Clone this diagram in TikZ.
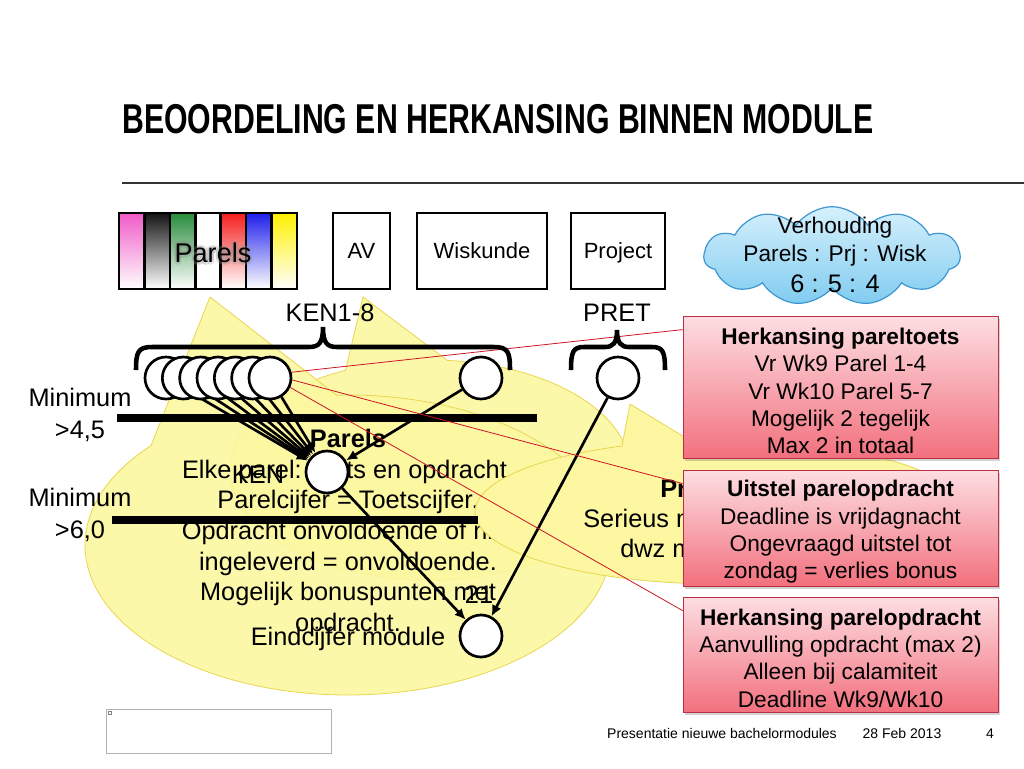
\documentclass[tikz,border=0pt]{standalone}
\usepackage{fontspec}
\usepackage{graphicx}
\setmainfont{Liberation Sans}
\usetikzlibrary{shapes.symbols,shadows,arrows.meta,calc}
\newcommand{\fsz}[2]{\fontsize{#1}{#2}\selectfont}
\definecolor{ylwfill}{RGB}{252,247,160}
\definecolor{ylwline}{RGB}{232,214,80}
\definecolor{redtop}{RGB}{253,222,226}
\definecolor{redbot}{RGB}{242,112,126}
\definecolor{redln}{RGB}{205,20,40}
\definecolor{redborder}{RGB}{190,45,70}
\definecolor{cloudtop}{RGB}{214,240,252}
\definecolor{cloudbot}{RGB}{128,204,240}
\definecolor{cloudline}{RGB}{60,150,210}
\definecolor{pinkc}{RGB}{240,90,200}
\definecolor{blackc}{RGB}{20,20,20}
\definecolor{greenc}{RGB}{40,140,60}
\definecolor{whitec}{RGB}{255,255,255}
\definecolor{redc}{RGB}{245,30,30}
\definecolor{bluec}{RGB}{30,30,235}
\definecolor{yellowc}{RGB}{255,240,0}
\pgfdeclarelayer{back}
\pgfdeclarelayer{mid}
\pgfsetlayers{back,mid,main}
\begin{document}
\begin{tikzpicture}[x=0.75pt,y=-0.75pt,
  topbox/.style={draw, line width=1.9pt, minimum height=57pt, inner sep=0, font=\fsz{16.5}{20}, text height=11.8pt, text depth=0pt},
  circ/.style={circle, draw, fill=white, line width=2pt, minimum size=31.5pt, inner sep=0},
  arr/.style={line width=2pt, -{Latex[length=8.25pt,width=7.5pt]}},
  bar/.style={line width=6pt},
  bracepath/.style={line width=3.4pt},
  callout/.style={fill=ylwfill, fill opacity=0.9, draw=ylwline, line width=0.6pt},
  redbox/.style={draw=redborder, line width=0.6pt, top color=redtop, bottom color=redbot,
     minimum width=236.25pt, inner sep=0,
     drop shadow={opacity=0.35, shadow xshift=1.5pt, shadow yshift=-2pt}},
  redtxt/.style={align=center, font=\fsz{17}{20.5}, inner sep=0},
  redl/.style={draw=redln, line width=0.6pt},
  lbl/.style={font=\fsz{19}{22}, inner sep=0},
  lbl1/.style={font=\fsz{19}{22}, inner sep=0, text height=13.6pt, text depth=0pt}
]
\useasboundingbox (0,0) rectangle (1024,768);

% title
\node[anchor=base west, inner sep=0, font=\fsz{31.3}{36}\bfseries] (title) at (122,133)
  {\scalebox{0.725}[1]{BEOORDELING EN HERKANSING BINNEN MODULE}};
\draw[line width=0.9pt, black!80] (122,183) -- (1024,183);

% Parels striped box
\foreach \c [count=\i from 0] in {pinkc,blackc,greenc,whitec,redc,bluec,yellowc}{
  \shade[top color=\c, middle color=\c!40!white, bottom color=white] ({119+\i*25.43},213) rectangle ++(25.43,76);
}
\foreach \i in {0,...,6}{
  \draw[line width=1.9pt] ({119+\i*25.43},213) rectangle ++(25.43,76);
}
\node[minimum width=133.5pt, minimum height=57pt, inner sep=0] (parelsbox) at (208,251) {};
\foreach \dx/\dy in {-2.5/0,2.5/0,0/-2.5,0/2.5,-1.8/-1.8,1.8/1.8,-1.8/1.8,1.8/-1.8}{
  \node[font=\fsz{20.3}{24}, text=black!45, text opacity=0.18, inner sep=0, text height=14.5pt, text depth=0pt] at ($(213,253)+(\dx,\dy)$) {Parels};
}
\node[font=\fsz{20.3}{24}, inner sep=0, text height=14.5pt, text depth=0pt] (parelslbl) at (213,253) {Parels};

\node[topbox, minimum width=42.75pt] (av) at (361.5,251) {AV};
\node[topbox, minimum width=97.5pt] (wisk) at (482,251) {Wiskunde};
\node[topbox, minimum width=70.5pt] (proj) at (618,251) {Project};

% cloud
\node[cloud, cloud puffs=11, cloud puff arc=110, cloud ignores aspect, draw=cloudline, line width=0.9pt,
  top color=cloudtop, bottom color=cloudbot, minimum width=192pt, minimum height=74pt, inner sep=0]
  (cloud) at (832,256) {};
\node[font=\fsz{17}{20}, inner sep=0, text height=12.2pt, text depth=0pt] (cl1) at (835,225) {Verhouding};
\node[font=\fsz{17}{20}, inner sep=0, text height=12.2pt, text depth=0pt] (cl2) at (835,253) {Parels : Prj : Wisk};
\node[font=\fsz{19}{22}, inner sep=0, text height=13.6pt, text depth=0pt] (cl3) at (835,283) {6 : 5 : 4};

% brace labels
\node[lbl1] (kenlab) at (330,312) {KEN1-8};
\node[lbl1] (pretlab) at (617,312) {PRET};

% braces
\draw[bracepath] (136,370) .. controls (136,352) and (138,347) .. (152,347) -- (309,347)
  .. controls (319,347) and (323,343) .. (323,327) .. controls (323,343) and (327,347) .. (337,347)
  -- (494,347) .. controls (508,347) and (510,352) .. (510,370);
\draw[bracepath] (571,370) .. controls (571,352) and (573,347) .. (584,347) -- (605,347)
  .. controls (613,347) and (617,343) .. (617,330) .. controls (617,343) and (621,347) .. (629,347)
  -- (652,347) .. controls (663,347) and (665,352) .. (665,370);

% yellow callouts
\begin{pgfonlayer}{back}
\path[callout] (430,470) ++(-85:200 and 110) arc[start angle=-85, end angle=245, x radius=200, y radius=110] -- (363,297) -- cycle;
\path[callout] (348,545) ++(-92.5:263 and 150) arc[start angle=-92.5, end angle=221.5, x radius=263, y radius=150] -- (210,297) -- cycle;
\node[lbl, align=center, font=\fsz{19}{23}] (e1txt) at (348,533)
  {\textbf{Parels}\\Elke parel: toets en opdracht.\\Parelcijfer = Toetscijfer.\\Opdracht onvoldoende of niet\\ingeleverd = onvoldoende.\\Mogelijk bonuspunten met\\opdracht.};
\path[callout, fill opacity=1] (720,512) ++(-97:245 and 72) arc[start angle=-97, end angle=246.4, x radius=245, y radius=72] -- (630,404) -- cycle;
\node[lbl1, anchor=west, font=\fsz{19}{22}\bfseries] (e3a) at (660,488) {Project};
\node[lbl1, anchor=west] (e3b) at (583,518) {Serieus m};
\node[lbl1, anchor=west] (e3c) at (620,548) {dwz m};
\end{pgfonlayer}

% minimum labels
\node[lbl, align=center, font=\fsz{19}{24}] (min1) at (80,415) {Minimum\\>4,5};
\node[lbl, align=center, font=\fsz{19}{24}] (min2) at (80,515) {Minimum\\>6,0};

% circles
\foreach \i in {1,...,7}{
  \node[circ] (c\i) at ({166+(\i-1)*17.33},378) {};
}
\node[circ] (avc) at (481,378) {};
\node[circ] (pretc) at (618,378) {};
\node[circ] (ken) at (327,472) {};
\node[circ] (eind) at (481,636) {};
\node[lbl1] (kenlbl) at (258,474) {KEN};
\node[lbl1] (eindlbl) at (348,636) {Eindcijfer module};
\node[lbl1] (eindnum) at (479,594) {21};

% red boxes
\node[redbox, minimum height=106.5pt] (b1) at (840.5,387) {};
\node[redtxt] (b1t) at (840.5,391)
  {\textbf{Herkansing pareltoets}\\Vr Wk9 Parel 1-4\\Vr Wk10 Parel 5-7\\Mogelijk 2 tegelijk\\Max 2 in totaal};
\node[redbox, minimum height=87pt] (b2) at (840.5,528) {};
\node[redtxt] (b2t) at (840.5,532)
  {\textbf{Uitstel parelopdracht}\\Deadline is vrijdagnacht\\Ongevraagd uitstel tot\\zondag = verlies bonus};
\node[redbox, minimum height=86.25pt] (b3) at (840.5,654.5) {};
\node[redtxt] (b3t) at (840.5,658)
  {\textbf{Herkansing parelopdracht}\\Aanvulling opdracht (max 2)\\Alleen bij calamiteit\\Deadline Wk9/Wk10};

% bars, arrows, red lines
\begin{pgfonlayer}{mid}
\draw[bar] (117,418) -- (537,418);
\draw[bar] (112,520) -- (478,520);
\foreach \i in {1,...,7}{
  \draw[arr] (c\i) -- (ken);
}
\draw[arr] (avc) -- (ken);
\draw[arr] (ken) -- (eind);
\draw[arr] (pretc) -- (eind);
\draw[redl] (c7.15) -- ([yshift=-10.5pt]b1.north west);
\draw[redl] (c7.-5) -- ([yshift=-10.5pt]b2.north west);
\draw[redl] (c7.-25) -- ([yshift=-10.5pt]b3.north west);
\end{pgfonlayer}

% footer
\node[draw=black!30, line width=0.6pt, minimum width=168.75pt, minimum height=33pt, inner sep=0] (imgph) at (218.5,731) {};
\draw[black!50, line width=0.4pt] (108,711) rectangle (111,714);
\node[font=\fsz{10.5}{12}, inner sep=0] (ft1) at (722,733) {Presentatie nieuwe bachelormodules};
\node[font=\fsz{10.5}{12}, inner sep=0] (ft2) at (902,733) {28 Feb 2013};
\node[font=\fsz{10.5}{12}, inner sep=0, text height=7.5pt, text depth=0pt] (ft3) at (990,733) {4};
\end{tikzpicture}
\end{document}
